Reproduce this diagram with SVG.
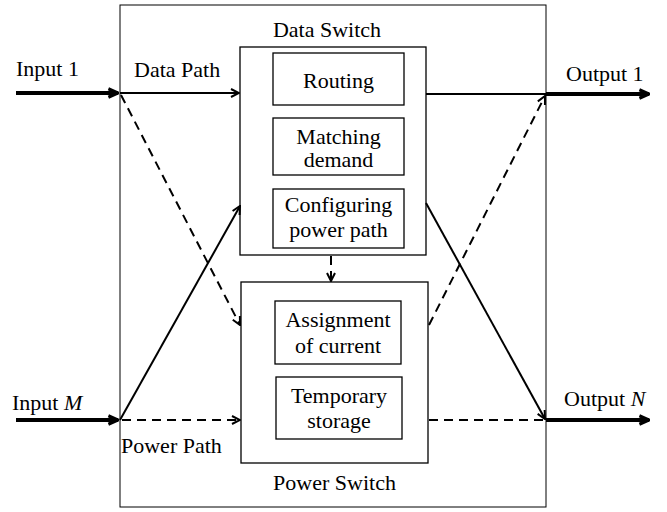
<svg xmlns="http://www.w3.org/2000/svg" width="667" height="512" viewBox="0 0 667 512">
  <style>
    .box { fill: #fff; stroke: #000; stroke-width: 1.3; }
    .frame { fill: none; stroke: #000; stroke-width: 1; }
    .t { font-family: "Liberation Serif", "Times New Roman", serif; font-size: 22px; fill: #000; }
    .c { text-anchor: middle; }
    .thin { stroke: #000; stroke-width: 2; fill: none; }
    .dash { stroke: #000; stroke-width: 2; fill: none; stroke-dasharray: 9 6; }
    .thick { stroke: #000; stroke-width: 4; fill: none; }
  </style>
  <defs>
    <marker id="ahT" viewBox="0 0 10 10" refX="9" refY="5" markerWidth="12" markerHeight="12" markerUnits="userSpaceOnUse" orient="auto">
      <path d="M1,1.5 L9,5 L1,8.5" fill="none" stroke="#000" stroke-width="2.6"/>
    </marker>
    <marker id="ahW" viewBox="0 0 10 10" refX="9" refY="5" markerWidth="10" markerHeight="10" markerUnits="userSpaceOnUse" orient="auto">
      <path d="M1,1 L9,5 L1,9" fill="none" stroke="#000" stroke-width="2"/>
    </marker>
  </defs>

  <!-- outer frame -->
  <rect class="frame" x="120" y="5" width="426" height="502"/>

  <!-- data switch -->
  <g id="data-switch">
    <rect class="box" x="240" y="47" width="186" height="208"/>
    <text class="t c" x="327" y="37">Data Switch</text>
  </g>
  <g id="routing">
    <rect class="box" x="273" y="53" width="131" height="52"/>
    <text class="t c" x="338.5" y="88">Routing</text>
  </g>
  <g id="matching">
    <rect class="box" x="273" y="118" width="131" height="57"/>
    <text class="t c" x="338.5" y="144">Matching</text>
    <text class="t c" x="338.5" y="167">demand</text>
  </g>
  <g id="configuring">
    <rect class="box" x="273" y="189" width="131" height="59"/>
    <text class="t c" x="338.5" y="212">Configuring</text>
    <text class="t c" x="338.5" y="237">power path</text>
  </g>

  <!-- power switch -->
  <g id="power-switch">
    <rect class="box" x="241" y="282" width="187" height="181"/>
    <text class="t c" x="334.5" y="490">Power Switch</text>
  </g>
  <g id="assignment">
    <rect class="box" x="275" y="301" width="126" height="63"/>
    <text class="t c" x="338" y="327">Assignment</text>
    <text class="t c" x="338" y="353">of current</text>
  </g>
  <g id="storage">
    <rect class="box" x="276" y="377" width="126" height="62"/>
    <text class="t c" x="339" y="403">Temporary</text>
    <text class="t c" x="339" y="428">storage</text>
  </g>

  <!-- port labels -->
  <g id="input-1"><text class="t" x="16" y="76">Input 1</text></g>
  <g id="input-m"><text class="t" x="12" y="410">Input <tspan font-style="italic">M</tspan></text></g>
  <g id="output-1"><text class="t" x="566" y="81">Output 1</text></g>
  <g id="output-n"><text class="t" x="564" y="406">Output <tspan font-style="italic">N</tspan></text></g>
  <g id="path-labels">
    <text class="t" x="134" y="77">Data Path</text>
    <text class="t" x="121" y="453">Power Path</text>
  </g>

  <!-- connectors -->
  <g id="connectors">
    <line class="thick" x1="16" y1="93" x2="118" y2="93" marker-end="url(#ahT)"/>
    <line class="thick" x1="16" y1="420" x2="118" y2="420" marker-end="url(#ahT)"/>
    <line class="thick" x1="546" y1="94" x2="649" y2="94" marker-end="url(#ahT)"/>
    <line class="thick" x1="546" y1="420" x2="649" y2="420" marker-end="url(#ahT)"/>

    <line class="thin" x1="120" y1="93" x2="239" y2="93" marker-end="url(#ahW)"/>
    <line class="thin" x1="426" y1="94" x2="546" y2="94"/>
    <line class="thin" x1="120" y1="420" x2="240" y2="206" marker-end="url(#ahW)"/>
    <line class="thin" x1="426" y1="203" x2="545" y2="419" marker-end="url(#ahW)"/>

    <line class="dash" x1="121" y1="95" x2="240" y2="325" marker-end="url(#ahW)"/>
    <line class="dash" x1="122" y1="420" x2="240" y2="420" marker-end="url(#ahW)"/>
    <line class="dash" x1="429" y1="325" x2="545" y2="96" marker-end="url(#ahW)"/>
    <line class="dash" x1="429" y1="420" x2="546" y2="420"/>
    <line class="dash" x1="331" y1="256" x2="331" y2="281" marker-end="url(#ahW)"/>
  </g>
</svg>
